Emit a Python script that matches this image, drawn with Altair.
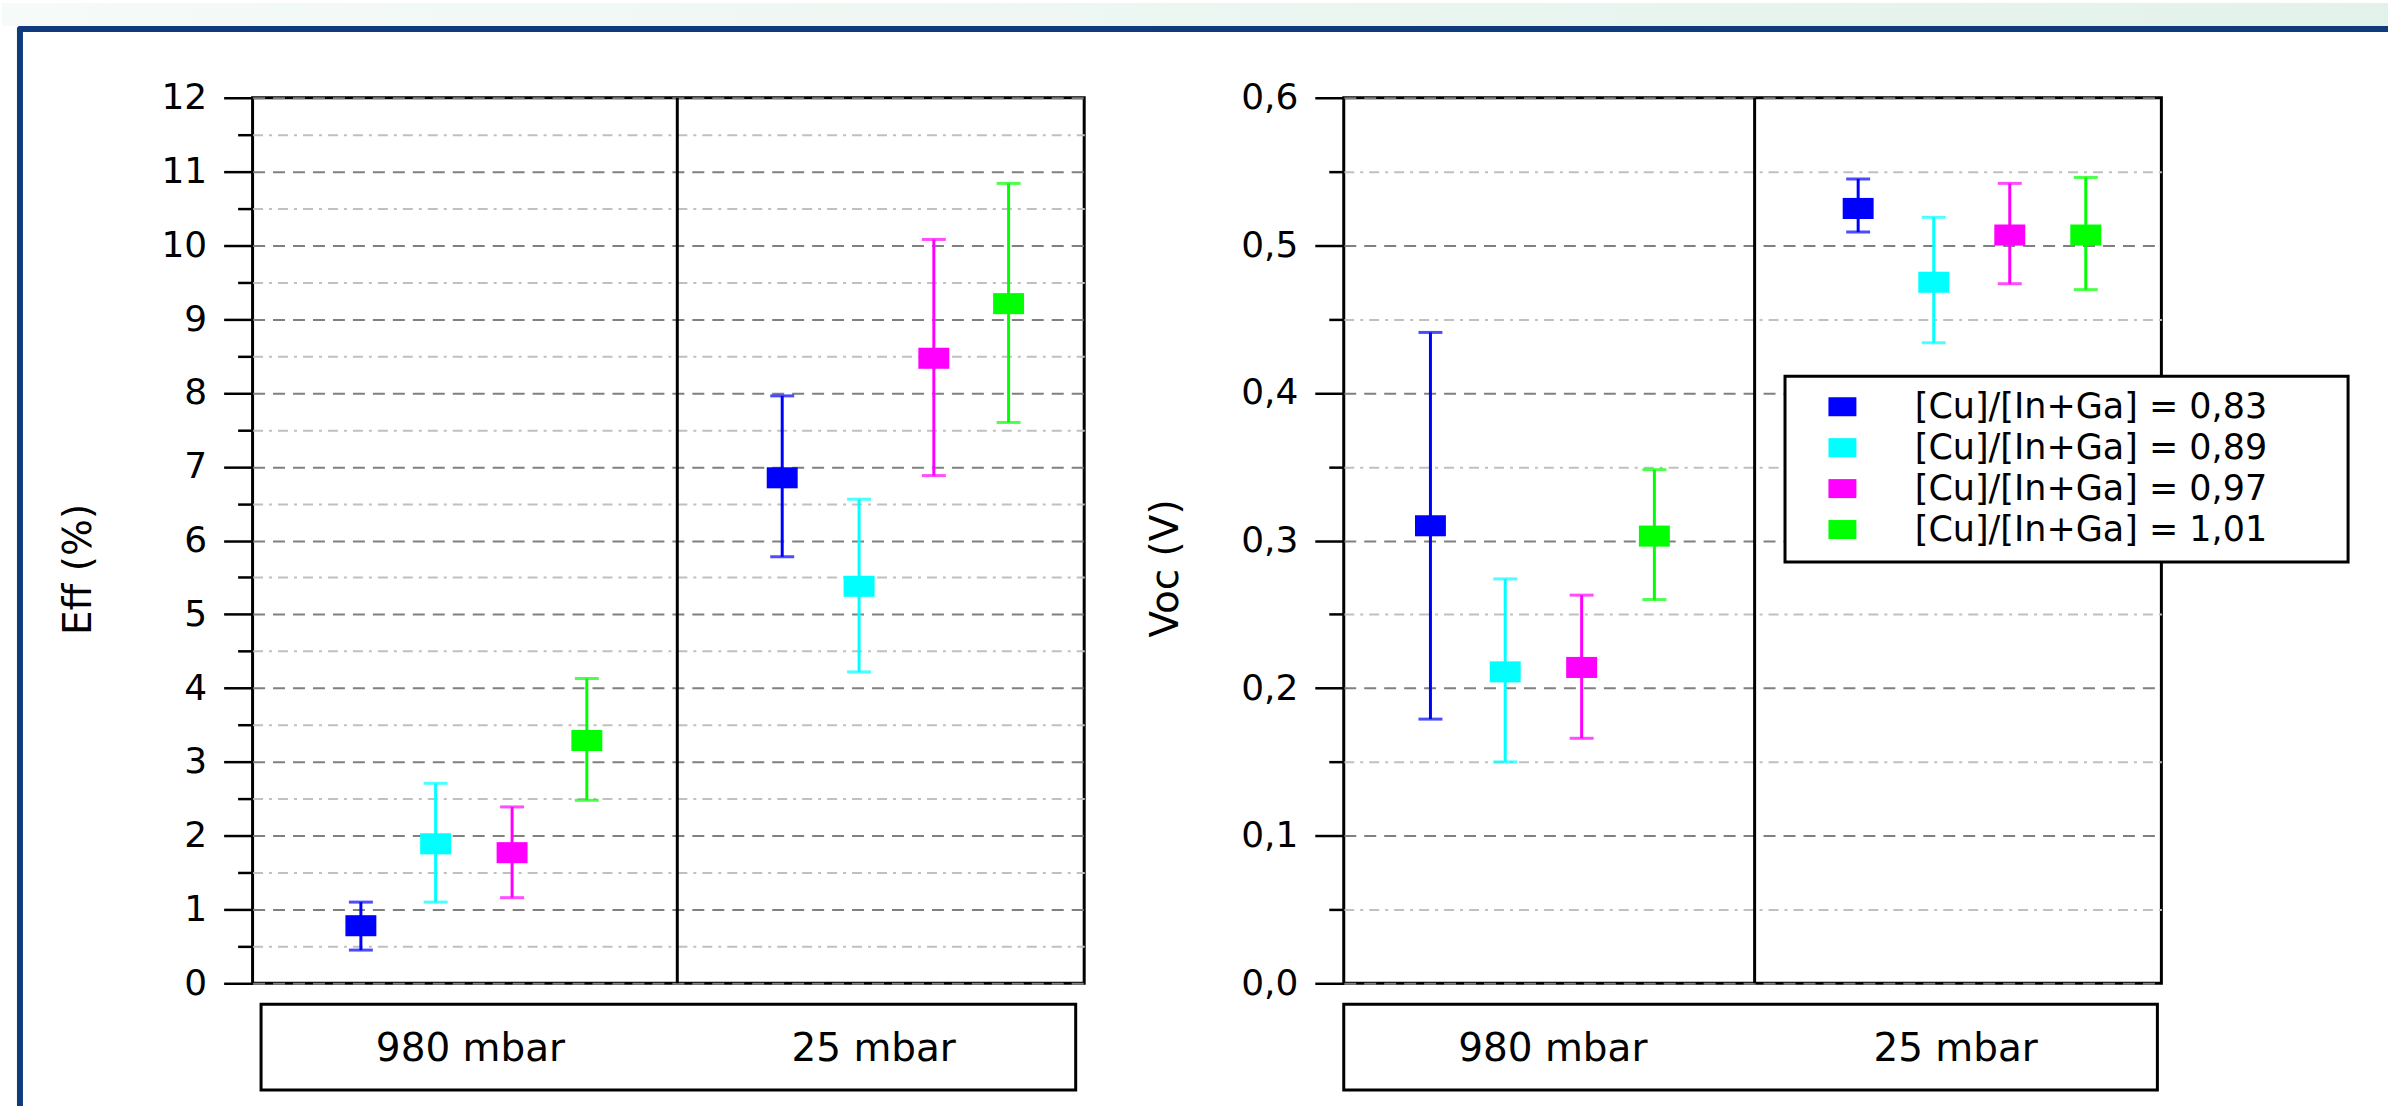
import altair as alt
import pandas as pd

# ---------------- data ----------------
pressures = ["980 mbar", "25 mbar"]
series = [
    "[Cu]/[In+Ga] = 0,83",
    "[Cu]/[In+Ga] = 0,89",
    "[Cu]/[In+Ga] = 0,97",
    "[Cu]/[In+Ga] = 1,01",
]
colors = ["#0000ff", "#00ffff", "#ff00ff", "#00ff00"]

# Efficiency (%)
eff_980 = [0.78, 1.89, 1.77, 3.29]
eff_980_lo = [0.45, 1.10, 1.16, 2.48]
eff_980_hi = [1.10, 2.71, 2.39, 4.13]
eff_25 = [6.85, 5.38, 8.47, 9.21]
eff_25_lo = [5.78, 4.22, 6.88, 7.60]
eff_25_hi = [7.96, 6.56, 10.08, 10.84]

# Open-circuit voltage (V)
voc_980 = [0.310, 0.211, 0.214, 0.303]
voc_980_lo = [0.179, 0.150, 0.166, 0.260]
voc_980_hi = [0.441, 0.274, 0.263, 0.348]
voc_25 = [0.525, 0.475, 0.507, 0.507]
voc_25_lo = [0.509, 0.434, 0.474, 0.470]
voc_25_hi = [0.545, 0.519, 0.542, 0.546]

# horizontal place of each series inside its pressure group (group width = 1)
eff_offset_980 = [0.255, 0.431, 0.611, 0.787]
eff_offset_25 = [0.247, 0.428, 0.604, 0.780]
voc_offset_980 = [0.211, 0.393, 0.579, 0.756]
voc_offset_25 = [0.252, 0.436, 0.621, 0.806]

group_start = [0, 1]
group_divider = [1]
category_label_pos = [0.514, 1.504]

eff_ticks = [0, 0.5, 1, 1.5, 2, 2.5, 3, 3.5, 4, 4.5, 5, 5.5, 6, 6.5, 7, 7.5,
             8, 8.5, 9, 9.5, 10, 10.5, 11, 11.5, 12]
voc_ticks = [0, 0.05, 0.1, 0.15, 0.2, 0.25, 0.3, 0.35, 0.4, 0.45, 0.5, 0.55, 0.6]

FONT = "DejaVu Sans"
RECT = "M-1,-0.68H1V0.68H-1Z"


def build(vals):
    rows, caps = [], []
    for g, (m, lo, hi, off) in enumerate(vals):
        for i in range(len(series)):
            rows.append({"pressure": pressures[g], "series": series[i], "hex": colors[i],
                         "pos": group_start[g] + off[i], "val": m[i], "lo": lo[i], "hi": hi[i]})
            caps.append({"series": series[i], "hex": colors[i], "pos": group_start[g] + off[i], "cap": lo[i]})
            caps.append({"series": series[i], "hex": colors[i], "pos": group_start[g] + off[i], "cap": hi[i]})
    return pd.DataFrame(rows), pd.DataFrame(caps)


eff_df, eff_caps = build([(eff_980, eff_980_lo, eff_980_hi, eff_offset_980),
                          (eff_25, eff_25_lo, eff_25_hi, eff_offset_25)])
voc_df, voc_caps = build([(voc_980, voc_980_lo, voc_980_hi, voc_offset_980),
                          (voc_25, voc_25_lo, voc_25_hi, voc_offset_25)])


def y_axis(title, ticks, major_test, label_expr, title_x, title_y):
    return alt.Axis(
        title=title, values=ticks, labelExpr=label_expr, labelOverlap=False,
        labelFont=FONT, labelFontSize=36, labelPadding=17, labelColor="black",
        titleFont=FONT, titleFontSize=39, titleFontWeight="normal", titleColor="black",
        titleAngle=270, titleX=title_x, titleY=title_y, titleBaseline="middle", titleAlign="center",
        domain=False, tickColor="black", tickWidth=2.5,
        tickSize={"condition": {"test": major_test, "value": 29}, "value": 15},
        grid=True, gridWidth=2,
        gridColor={"condition": {"test": major_test, "value": "#808080"}, "value": "#c0c0c0"},
        gridDash={"condition": {"test": major_test, "value": [12, 8]}, "value": [10, 6, 3, 6]},
    )


def panel(df, caps, xmax, ydom, axis, width, height, legend, deco=(), front=()):
    xs = alt.Scale(domain=[0, xmax], nice=False, zero=False)
    ys = alt.Scale(domain=ydom, nice=False, zero=False)
    x = alt.X("pos:Q", scale=xs, axis=None)
    divider = alt.Chart(pd.DataFrame({"pos": group_divider})).mark_rule(
        color="black", strokeWidth=3).encode(x=x)
    bars = alt.Chart(df).mark_rule(strokeWidth=3).encode(
        x=x, y=alt.Y("lo:Q", scale=ys, axis=axis), y2="hi:Q",
        color=alt.Color("hex:N", scale=None))
    capm = alt.Chart(caps).mark_tick(orient="horizontal", size=24, thickness=3).encode(
        x=x, y=alt.Y("cap:Q", scale=ys, axis=axis), color=alt.Color("hex:N", scale=None))
    pts = alt.Chart(df).mark_point(filled=True, shape=RECT, size=961, opacity=1, strokeWidth=0).encode(
        x=x, y=alt.Y("val:Q", scale=ys, axis=axis),
        color=alt.Color("series:N", scale=alt.Scale(domain=series, range=colors), legend=legend),
        opacity=alt.value(1))
    return alt.layer(*deco, divider, bars, capm, pts, *front).properties(width=width, height=height)


one = pd.DataFrame({"k": [0]})
band = alt.Chart(one).mark_rect(
    color=alt.LinearGradient(gradient="linear", x1=0, x2=1, y1=0, y2=0,
                             stops=[alt.GradientStop(color="#f6faf9", offset=0),
                                    alt.GradientStop(color="#e2f2ea", offset=1)])
).encode(x=alt.value(-251), x2=alt.value(2139), y=alt.value(-95), y2=alt.value(-72))
navy_top = alt.Chart(one).mark_rect(color="#0f3b7c", cornerRadiusTopLeft=6).encode(
    x=alt.value(-236), x2=alt.value(2139), y=alt.value(-72), y2=alt.value(-66))
navy_left = alt.Chart(one).mark_rect(color="#0f3b7c", cornerRadiusTopLeft=6).encode(
    x=alt.value(-236), x2=alt.value(-230), y=alt.value(-72), y2=alt.value(1011))

# frame drawn behind the legend entries
legend_frame = alt.Chart(one).mark_rect(fill="white", stroke="black", strokeWidth=3).encode(
    x=alt.value(442), x2=alt.value(1006), y=alt.value(279), y2=alt.value(465))

eff_axis = y_axis("Eff (%)", eff_ticks, "datum.value % 1 === 0",
                  "datum.value % 1 === 0 ? format(datum.value, 'd') : ''", -174, 472)
voc_test = "abs(datum.value * 10 - round(datum.value * 10)) < 0.001"
voc_axis = y_axis("Voc (V)", voc_ticks, voc_test,
                  voc_test + " ? replace(format(datum.value, '.1f'), '.', ',') : ''", -179, 471)

legend = alt.Legend(
    orient="none", legendX=444, legendY=282, title=None,
    padding=10, symbolOffset=28, symbolType=RECT, symbolSize=784, symbolStrokeWidth=0,
    symbolOpacity=1,
    labelOffset=55, rowPadding=5, labelFont=FONT, labelFontSize=35, labelColor="black",
    labelLimit=900, fillColor="white",
)

left = panel(eff_df, eff_caps, 1.958, [0, 12], eff_axis, 833, 887, None,
             deco=(band, navy_top, navy_left))
right = panel(voc_df, voc_caps, 1.99, [0, 0.6], voc_axis, 819, 887, legend,
              front=(legend_frame,))


def cat_box(width):
    return alt.Chart(pd.DataFrame({"label": pressures, "pos": category_label_pos})).mark_text(
        font=FONT, fontSize=39, baseline="middle", align="center", color="black"
    ).encode(
        x=alt.X("pos:Q", scale=alt.Scale(domain=[0, 2], nice=False, zero=False), axis=None),
        y=alt.value(45), text="label:N",
    ).properties(width=width, height=86)


chart = alt.concat(
    left, right, cat_box(816), cat_box(815),
    columns=2, spacing=alt.RowColnumber(row=21, column=260),
    bounds="flush", center=True, align="each",
).resolve_scale(x="independent", y="independent", color="independent").properties(
    padding=0
).configure(background="white").configure_view(
    stroke="black", strokeWidth=3, fill="white"
).configure_legend(symbolOpacity=1).configure_point(opacity=1)

chart.save("out.html", embed_options={"renderer": "svg", "actions": False})
